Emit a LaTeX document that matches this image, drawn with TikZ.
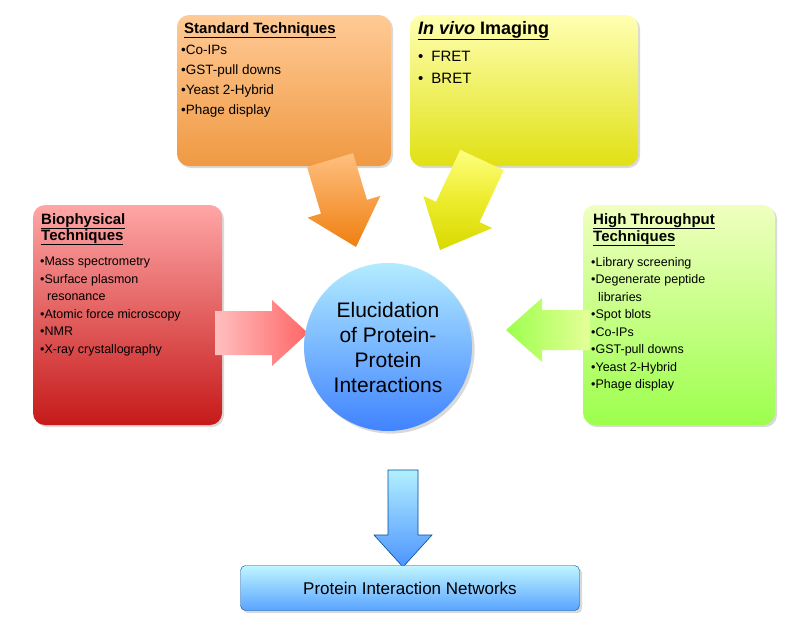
\documentclass[tikz,border=0pt]{standalone}
\usepackage{fontspec}
\setmainfont{Liberation Sans}
\usetikzlibrary{shadows,calc}
\newcommand\barr[6]{\coordinate (hb) at ($(#3)!#6pt!(#2)$);
\path[#1] ($(#2)!#4pt!90:(#3)$) -- ($(hb)!#4pt!90:(#3)$) -- ($(hb)!#5pt!90:(#3)$) -- (#3) -- ($(hb)!#5pt!-90:(#3)$) -- ($(hb)!#4pt!-90:(#3)$) -- ($(#2)!#4pt!-90:(#3)$) -- cycle;}
\begin{document}
\begin{tikzpicture}[x=1pt,y=-1pt,
 box/.style={rounded corners=12pt,draw=none,drop shadow={opacity=0.3,shadow xshift=2pt,shadow yshift=-2pt}},
 ttl/.style={anchor=north west,font=\fontsize{15}{16}\selectfont\bfseries,align=left,inner sep=0},
 itm/.style={anchor=north west,font=\fontsize{13.5}{20}\selectfont,align=left,inner sep=0}]
\useasboundingbox (0,0) rectangle (811,630);
% boxes
\path[box,top color=orange!35!white!90!orange,bottom color=orange!70!brown!80!white] (177,15) rectangle (391,166);
\path[box,top color=yellow!30!white,bottom color=yellow!70!olive!80!white] (410,15) rectangle (638,166);
\path[box,top color=red!35!white,bottom color=red!75!black!90!white] (33,205) rectangle (222,425);
\path[box,top color=lime!25!white,bottom color=lime!60!green!70!white] (583,205) rectangle (775,425);
% arrows
\coordinate (s1) at (330,160); \coordinate (e1) at (356,247);
\coordinate (s2) at (482,160); \coordinate (e2) at (440,250);
\coordinate (s3) at (215,333); \coordinate (e3) at (308,333);
\coordinate (s4) at (590,330); \coordinate (e4) at (506,330);
\coordinate (s5) at (403,470); \coordinate (e5) at (403,567);
\barr{top color=orange!50!white,bottom color=orange!75!brown}{s1}{e1}{24}{38}{42}
\barr{top color=yellow!50!white,bottom color=yellow!70!olive}{s2}{e2}{24}{38}{42}
\barr{left color=red!25!white,right color=red!60!white}{s3}{e3}{22}{33}{36}
\barr{right color=lime!40!white,left color=lime!60!green!70!white}{s4}{e4}{20}{32}{36}
\barr{top color=blue!20!cyan!30!white,bottom color=blue!60!cyan!70!white,draw=blue!50!cyan!60!black,line width=0.6pt}{s5}{e5}{15}{29}{32}
% circle
\node[circle,minimum size=168pt,inner sep=0,top color=blue!25!cyan!30!white,bottom color=blue!65!cyan!75!white,drop shadow={opacity=0.3},font=\fontsize{21}{25}\selectfont,align=center] (c) at (388,347) {Elucidation\\of Protein-\\Protein\\Interactions};
% bottom
\node[rounded corners=5pt,minimum width=339pt,minimum height=45pt,top color=blue!15!cyan!25!white,bottom color=blue!55!cyan!65!white,draw=blue!50!cyan!60!black,font=\fontsize{17}{19}\selectfont,drop shadow={opacity=0.3}] (net) at (410,588) {Protein Interaction Networks};
% texts
\node[ttl] (t1) at (184,22) {\underline{Standard Techniques}};
\node[itm] (i1) at (181,45) {•Co-IPs\\•GST-pull downs\\•Yeast 2-Hybrid\\•Phage display};
\node[ttl,font=\fontsize{18}{19}\selectfont\bfseries] (t2) at (418,21) {\underline{\textit{In vivo} Imaging}};
\node[itm,font=\fontsize{15}{22}\selectfont] (i2) at (418,51) {•\hspace{8pt}FRET\\•\hspace{8pt}BRET};
\node[ttl] (t3) at (41,213) {\underline{Biophysical}\\\underline{Techniques}};
\node[itm,font=\fontsize{12.5}{17.5}\selectfont] (i3) at (40,257) {•Mass spectrometry\\•Surface plasmon\\\hspace{7pt}resonance\\•Atomic force microscopy\\•NMR\\•X-ray crystallography};
\node[ttl] (t4) at (593,213) {\underline{High Throughput}\\\underline{Techniques}};
\node[itm,font=\fontsize{12.5}{17.5}\selectfont] (i4) at (591,257) {•Library screening\\•Degenerate peptide\\\hspace{7pt}libraries\\•Spot blots\\•Co-IPs\\•GST-pull downs\\•Yeast 2-Hybrid\\•Phage display};
\end{tikzpicture}
\end{document}
